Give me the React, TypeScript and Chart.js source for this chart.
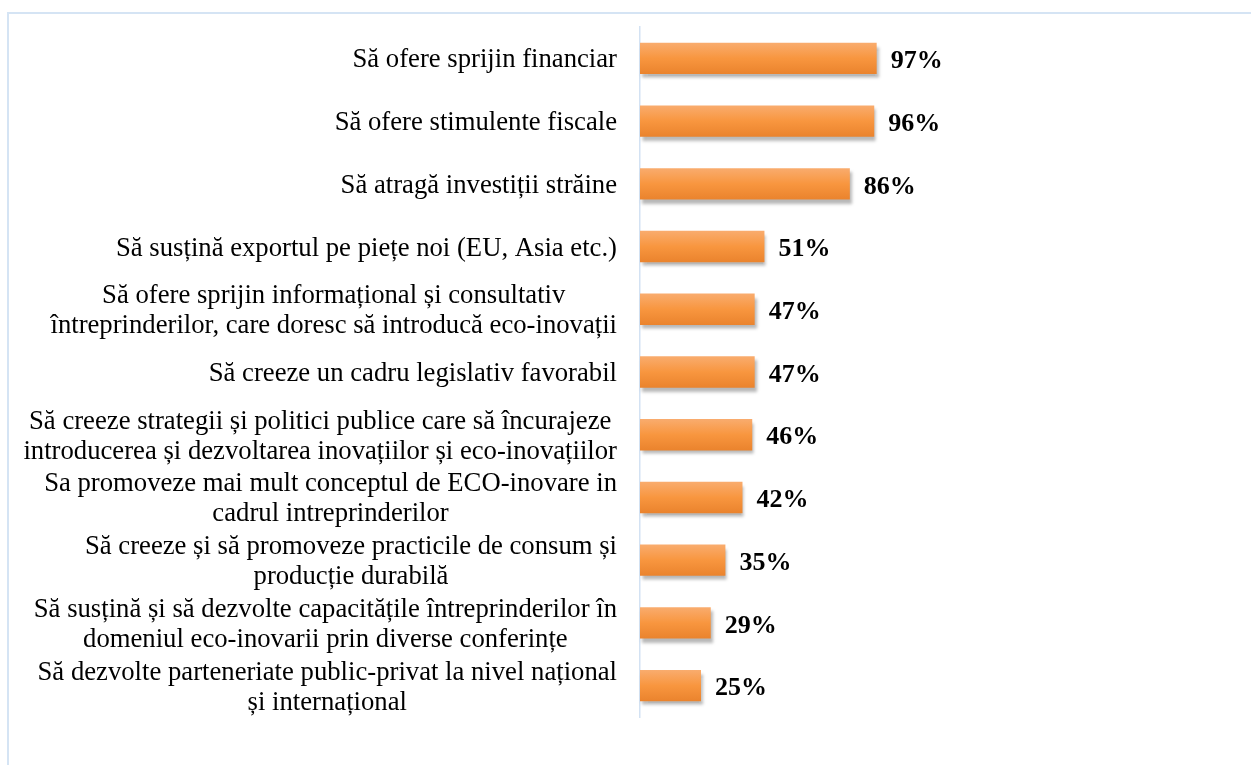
import React, { useEffect, useRef } from "react";
import { Chart, registerables } from "chart.js";

Chart.register(...registerables);

const categories: string[][] = [
  ["Să ofere sprijin financiar"],
  ["Să ofere stimulente fiscale"],
  ["Să atragă investiții străine"],
  ["Să susțină exportul pe piețe noi (EU, Asia etc.)"],
  ["Să ofere sprijin informațional și consultativ", "întreprinderilor, care doresc să introducă eco-inovații"],
  ["Să creeze un cadru legislativ favorabil"],
  ["Să creeze strategii și politici publice care să încurajeze", "introducerea și dezvoltarea inovațiilor și eco-inovațiilor"],
  ["Sa promoveze mai mult conceptul de ECO-inovare in", "cadrul intreprinderilor"],
  ["Să creeze și să promoveze practicile de consum și", "producție durabilă"],
  ["Să susțină și să dezvolte capacitățile întreprinderilor în", "domeniul eco-inovarii prin diverse conferințe"],
  ["Să dezvolte parteneriate public-privat la nivel național", "și internațional"],
];

const values: number[] = [97, 96, 86, 51, 47, 47, 46, 42, 35, 29, 25];

const SERIF = '"Liberation Serif", "Times New Roman", serif';
const LABEL_FONT = `26.7px ${SERIF}`;
const VALUE_FONT = `bold 26px ${SERIF}`;
const LINE_H = 30;
const LABEL_GAP = 23;
const BAR_PCT = 0.5;

const categoryLabelPlugin = {
  id: "categoryLabels",
  afterDraw(chart: any) {
    const { ctx, chartArea, scales } = chart;
    const y = scales.y;
    ctx.save();
    ctx.font = LABEL_FONT;
    ctx.fillStyle = "#000";
    ctx.textBaseline = "middle";
    ctx.textAlign = "center";
    categories.forEach((lines, i) => {
      const yc = y.getPixelForValue(i);
      const widest = Math.max(...lines.map((l) => ctx.measureText(l).width));
      const cx = chartArea.left - LABEL_GAP - widest / 2;
      const start = yc - ((lines.length - 1) * LINE_H) / 2;
      lines.forEach((l, k) => ctx.fillText(l, cx, start + k * LINE_H + 2));
    });
    ctx.restore();
  },
};

const shadowPlugin = {
  id: "barShadow",
  beforeDatasetsDraw(chart: any) {
    const ctx = chart.ctx;
    ctx.save();
    ctx.shadowColor = "rgba(0,0,0,0.28)";
    ctx.shadowOffsetX = 2;
    ctx.shadowOffsetY = 4;
    ctx.shadowBlur = 3;
  },
  afterDatasetsDraw(chart: any) {
    const ctx = chart.ctx;
    ctx.restore();
    const meta = chart.getDatasetMeta(0);
    ctx.save();
    ctx.font = VALUE_FONT;
    ctx.fillStyle = "#000";
    ctx.textAlign = "left";
    ctx.textBaseline = "middle";
    meta.data.forEach((bar: any, i: number) => {
      ctx.fillText(`${values[i]}%`, bar.x + 14, bar.y + 3);
    });
    ctx.restore();
  },
};

function barGradient(context: any) {
  const chart = context.chart;
  const y = chart.scales && chart.scales.y;
  if (!y || context.dataIndex === undefined) return "#f7953f";
  const yc = y.getPixelForValue(context.dataIndex);
  const h = (y.height / categories.length) * BAR_PCT;
  if (!isFinite(yc) || !isFinite(h) || h <= 0) return "#f7953f";
  const g = chart.ctx.createLinearGradient(0, yc - h / 2, 0, yc + h / 2);
  g.addColorStop(0, "#f9ac6e");
  g.addColorStop(0.5, "#f8963f");
  g.addColorStop(1, "#ea832d");
  return g;
}

export default function App() {
  const canvasRef = useRef<HTMLCanvasElement | null>(null);

  useEffect(() => {
    if (!canvasRef.current) return;
    const chart = new Chart(canvasRef.current, {
      type: "bar",
      data: {
        labels: categories,
        datasets: [
          {
            data: values,
            backgroundColor: barGradient,
            borderWidth: 0,
            barPercentage: BAR_PCT,
            categoryPercentage: 1,
            clip: false as any,
          },
        ],
      },
      options: {
        indexAxis: "y",
        animation: false,
        responsive: true,
        maintainAspectRatio: false,
        layout: { padding: { left: 632, right: 359, top: 19, bottom: 40 } },
        plugins: {
          legend: { display: false },
          tooltip: { enabled: false },
        },
        scales: {
          x: { display: false, min: 0, max: 100 },
          y: {
            display: true,
            grid: { display: false, drawTicks: false },
            ticks: { display: false },
            border: { display: true, color: "#d3e2f3", width: 1.5 },
            afterFit: (s: any) => {
              s.width = 0;
            },
          },
        },
      },
      plugins: [shadowPlugin, categoryLabelPlugin],
    });
    return () => chart.destroy();
  }, []);

  return (
    <div>
      <div
        style={{
          position: "fixed",
          left: 7,
          top: 12,
          width: 1300,
          height: 800,
          borderLeft: "2px solid #d5e4f4",
          borderTop: "2px solid #d5e4f4",
        }}
      />
      <div style={{ position: "relative", width: 1235, height: 749 }}>
        <canvas ref={canvasRef} />
      </div>
    </div>
  );
}
